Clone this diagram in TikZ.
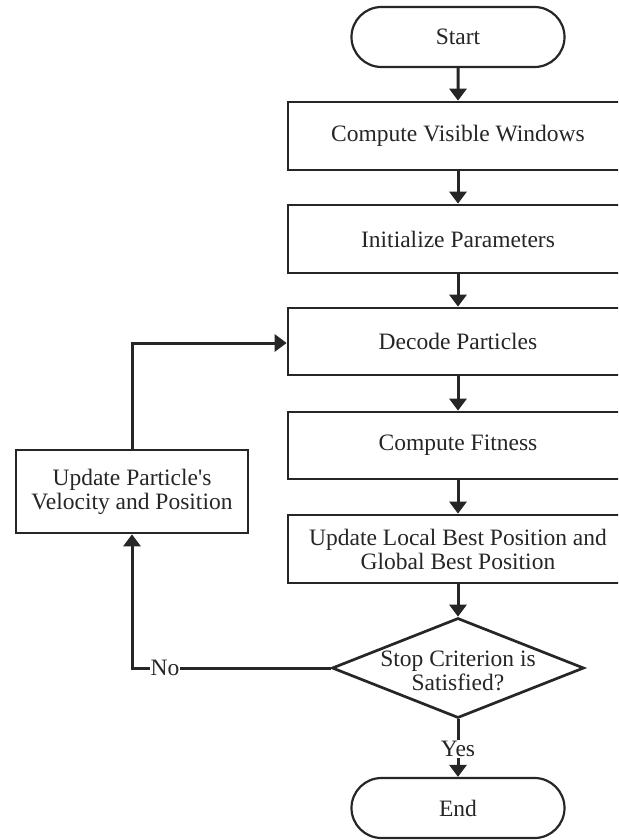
\documentclass[tikz,border=0pt]{standalone}
\usepackage{fontspec}
\setmainfont{Liberation Serif}[Ligatures=TeXOff]
\usetikzlibrary{shapes.misc,shapes.geometric,arrows.meta}
\begin{document}
\begin{tikzpicture}[x=1pt,y=-1pt,
  every node/.style={font=\fontsize{23.5}{24}\selectfont, text=black!85},
  terminal/.style={rounded rectangle, draw=black!85, line width=2.2pt, minimum width=213pt, minimum height=60pt, inner sep=0pt},
  procbox/.style={rectangle, draw=black!85, line width=2.7pt, minimum width=340pt, inner sep=0pt, align=center},
  decision/.style={diamond, draw=black!85, line width=2.7pt, aspect=2.52, minimum width=252pt, minimum height=100pt, inner sep=0pt},
  flow/.style={draw=black!85, line width=3pt, -{Triangle[width=17pt,length=12pt]}},
  lbl/.style={fill=white, inner sep=1pt}
]
\useasboundingbox (0,0) rectangle (618,840);
\clip (0,0) rectangle (618,840);
\fill[white] (0,0) rectangle (618,840);

\node[terminal] (start) at (458,37) {Start};
\node[procbox, minimum height=68pt] (cvw) at (458,136) {Compute Visible Windows};
\node[procbox, minimum height=68pt] (init) at (458,239) {Initialize Parameters};
\node[procbox, minimum height=67pt] (dec) at (458,341.5) {Decode Particles};
\node[procbox, minimum height=67pt] (fit) at (458,445.5) {Compute Fitness};
\node[procbox, minimum height=68pt] (upd) at (458,549) {Update Local Best Position and\\Global Best Position};
\node[decision] (stop) at (458,668) {};
\node[align=center] (stoptext) at (458,671) {Stop Criterion is\\Satisfied?};
\node[terminal] (end) at (458,808) {End};
\node[rectangle, draw=black!85, line width=2.7pt, minimum width=232pt, minimum height=83pt, inner sep=0pt, align=center] (vel) at (132,491.5) {Update Particle's\\Velocity and Position};

\coordinate (nocorner) at (132,668);
\coordinate (topcorner) at (132,343);

\draw[flow] (start) -- (cvw);
\draw[flow] (cvw) -- (init);
\draw[flow] (init) -- (dec);
\draw[flow] (dec) -- (fit);
\draw[flow] (fit) -- (upd);
\draw[flow] (upd) -- (stop);
\draw[flow] (stop) -- (end);
\node[lbl] (yes) at (458,749) {Yes};
\draw[flow] (stop.west) -- (nocorner) -- (vel.south);
\node[lbl] (no) at (165,668) {No};
\draw[flow] (vel.north) -- (topcorner) -- (dec.west |- topcorner);
\end{tikzpicture}
\end{document}
